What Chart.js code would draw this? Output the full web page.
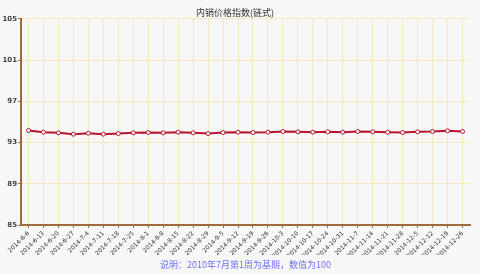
<!DOCTYPE html>
<html lang="zh">
<head>
    <meta charset="UTF-8">
    <title>内销价格指数(链式)</title>
    <script src="https://cdn.jsdelivr.net/npm/chart.js"></script>
    <style>
        body { margin: 0; background: #f7f7f7; }
        #wrap { width: 480px; height: 274px; }
    </style>
</head>
<body>
    <div id="wrap"><canvas id="indexChart" width="480" height="274"></canvas></div>

    <script>
        // weekly dates
        const weeks = ['2014-6-6', '2014-6-13', '2014-6-20', '2014-6-27', '2014-7-4', '2014-7-11', '2014-7-18', '2014-7-25',
            '2014-8-1', '2014-8-8', '2014-8-15', '2014-8-22', '2014-8-29', '2014-9-5', '2014-9-12', '2014-9-19', '2014-9-26',
            '2014-10-3', '2014-10-10', '2014-10-17', '2014-10-24', '2014-10-31', '2014-11-7', '2014-11-14', '2014-11-21',
            '2014-11-28', '2014-12-5', '2014-12-12', '2014-12-19', '2014-12-26'];
        const indexValues = [94.17, 94.0, 93.94, 93.81, 93.9, 93.81, 93.87, 93.94, 93.97, 93.94, 94.0, 93.94, 93.87, 93.97, 94.0,
            93.97, 94.0, 94.07, 94.04, 94.0, 94.04, 94.0, 94.07, 94.04, 94.0, 93.97, 94.04, 94.07, 94.14, 94.07];
        const yTicks = [85, 89, 93, 97, 101, 105];
        const titleText = '内销价格指数(链式)';
        const noteText = '说明：2010年7月第1周为基期，数值为100';

        const axisBrown = '#9e6b3e';
        const gridColor = '#f6e7c1';

        // footer note, centred under the plot
        const notePlugin = {
            id: 'note',
            afterDraw(chart) {
                const c = chart.ctx;
                const a = chart.chartArea;
                c.save();
                c.font = '9px "Noto Sans CJK SC"';
                c.fillStyle = '#7272ee';
                c.textAlign = 'center';
                c.textBaseline = 'middle';
                c.fillText(noteText, (a.left + a.right) / 2, 265);
                c.restore();
            }
        };

        const ctx = document.getElementById('indexChart').getContext('2d');
        const indexChart = new Chart(ctx, {
            type: 'line',
            data: {
                labels: weeks,
                datasets: [{
                    data: indexValues,
                    borderColor: '#b8142f',
                    borderWidth: 2,
                    backgroundColor: '#ffffff',
                    pointBackgroundColor: '#ffffff',
                    pointBorderColor: '#b8142f',
                    pointBorderWidth: 1,
                    pointRadius: 2,
                    tension: 0
                }]
            },
            options: {
                responsive: false,
                animation: false,
                layout: { padding: { left: 0, right: 10, top: 0, bottom: 19 } },
                plugins: {
                    legend: { display: false },
                    tooltip: { enabled: false },
                    title: {
                        display: true,
                        text: titleText,
                        color: '#333333',
                        font: { family: '"Noto Sans CJK SC"', size: 9, weight: 'normal' },
                        padding: { top: 7, bottom: 1 }
                    }
                },
                scales: {
                    x: {
                        offset: true,
                        grid: { color: gridColor, offset: false, tickColor: axisBrown, tickLength: 3 },
                        border: { color: axisBrown, width: 2 },
                        ticks: {
                            autoSkip: false,
                            maxRotation: 45,
                            minRotation: 45,
                            padding: 2,
                            color: '#333333',
                            font: { family: '"DejaVu Sans"', size: 6 }
                        },
                        afterFit(scale) { scale.height = 30; }
                    },
                    y: {
                        min: 85,
                        max: 105,
                        afterBuildTicks(scale) { scale.ticks = yTicks.map(v => ({ value: v })); },
                        grid: { color: gridColor, tickColor: axisBrown, tickLength: 3 },
                        border: { color: axisBrown, width: 2 },
                        ticks: {
                            padding: 1,
                            color: '#444444',
                            font: { family: '"DejaVu Sans"', size: 7, weight: 'bold' }
                        },
                        afterFit(scale) { scale.width = 21; }
                    }
                }
            },
            plugins: [notePlugin]
        });
    </script>
</body>
</html>
